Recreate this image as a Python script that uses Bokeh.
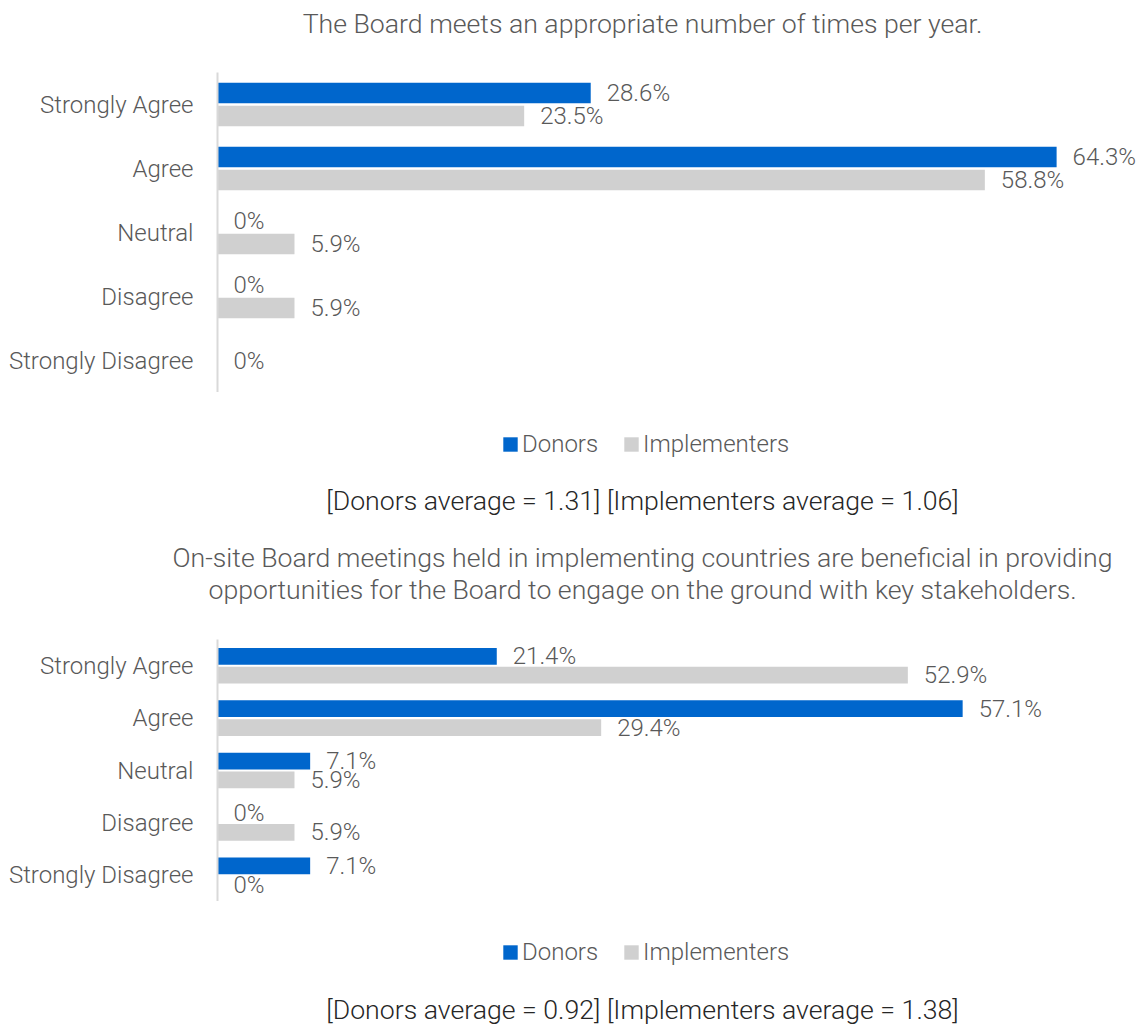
from bokeh.plotting import figure
from bokeh.models import ColumnDataSource, FactorRange, Range1d, LabelSet, Label, Legend, LegendItem
from bokeh.layouts import column
from bokeh.transform import dodge
from bokeh.core.properties import value
from bokeh.embed import file_html
from bokeh.resources import INLINE

# ---------------- data ----------------
categories = ["Strongly Agree", "Agree", "Neutral", "Disagree", "Strongly Disagree"]
series_names = ["Donors", "Implementers"]

q1_title = ["The Board meets an appropriate number of times per year."]
q1_donors = [28.6, 64.3, 0, 0, 0]
q1_implementers = [23.5, 58.8, 5.9, 5.9, 0]
q1_note = "[Donors average = 1.31] [Implementers average = 1.06]"

q2_title = ["On-site Board meetings held in implementing countries are beneficial in providing",
            "opportunities for the Board to engage on the ground with key stakeholders."]
q2_donors = [21.4, 57.1, 7.1, 0, 7.1]
q2_implementers = [52.9, 29.4, 5.9, 5.9, 0]
q2_note = "[Donors average = 0.92] [Implementers average = 1.38]"

# ---------------- style ----------------
FONT_STR = "'Roboto Light', Roboto, sans-serif"
FONT = value(FONT_STR)
TXT = "#595959"
NOTE = "#262626"
BLUE = "#0066CC"
GREY = "#D0D0D0"
W = 1140
LEFT = 217
PX_PER_PCT = 13.05
X_MAX = (W - LEFT) / PX_PER_PCT
CENTER_X = 642
OFF = 0.18
BAR_H = 0.32
TITLE_SIZE = "26.67px"
LABEL_SIZE = "24px"
NAN = float("nan")


def fmt(v):
    return f"{v:g}%"


def base_fig(height, **kw):
    f = figure(width=W, height=height, output_backend="svg", toolbar_location=None,
               frame_align=False, **kw)
    f.outline_line_color = None
    f.xgrid.visible = False
    f.ygrid.visible = False
    f.background_fill_color = None
    f.border_fill_color = "white"
    return f


def text_fig(height, items, legend_top=None):
    f = base_fig(height, x_range=Range1d(0, W), y_range=Range1d(height, 0),
                 x_axis_location=None, y_axis_location=None, min_border=0)
    for text, y, size, color in items:
        f.add_layout(Label(x=CENTER_X, y=y, text=text, text_align="center",
                           text_baseline="middle", text_font=FONT_STR,
                           text_font_size=size, text_color=color))
    if legend_top is not None:
        # legend keys (non-drawn proxies) share the series colours of the chart above
        k1 = f.hbar(y=[NAN], right=[NAN], left=0, height=1, fill_color=BLUE, line_color=None)
        k2 = f.hbar(y=[NAN], right=[NAN], left=0, height=1, fill_color=GREY, line_color=None)
        leg_h = 28
        legend = Legend(items=[LegendItem(label=series_names[0], renderers=[k1]),
                               LegendItem(label=series_names[1], renderers=[k2])],
                        location=(501, height - legend_top - leg_h), orientation="horizontal",
                        glyph_width=18, glyph_height=18, label_standoff=3, spacing=24,
                        label_height=leg_h, padding=0, margin=0, border_line_color=None,
                        background_fill_alpha=0, label_text_font=FONT_STR,
                        label_text_font_size=LABEL_SIZE, label_text_color=TXT,
                        label_text_baseline="middle")
        f.add_layout(legend)
    return f


def chart_fig(donors, impl, height):
    p = base_fig(height, y_range=FactorRange(factors=categories[::-1]),
                 x_range=Range1d(0, X_MAX), x_axis_location=None,
                 min_border_left=LEFT, min_border_right=0,
                 min_border_top=0, min_border_bottom=0)

    ax = p.yaxis[0]
    ax.major_tick_line_color = None
    ax.minor_tick_line_color = None
    ax.axis_line_color = "#D9D9D9"
    ax.axis_line_width = 2
    ax.major_label_standoff = 18
    ax.major_label_text_font = FONT_STR
    ax.major_label_text_font_size = LABEL_SIZE
    ax.major_label_text_color = TXT

    src = ColumnDataSource(dict(cat=categories, donors=donors, impl=impl))
    p.hbar(y=dodge("cat", OFF, range=p.y_range), right="donors", left=0,
           height=BAR_H, source=src, fill_color=BLUE, line_color=None)
    p.hbar(y=dodge("cat", -OFF, range=p.y_range), right="impl", left=0,
           height=BAR_H, source=src, fill_color=GREY, line_color=None)

    # value labels
    d_c, d_x, d_t, i_c, i_x, i_t, z_c, z_x, z_t = ([] for _ in range(9))
    for c, d, im in zip(categories, donors, impl):
        if d == 0 and im == 0:
            z_c.append(c); z_x.append(0); z_t.append("0%")
            continue
        d_c.append(c); d_x.append(d); d_t.append(fmt(d))
        i_c.append(c); i_x.append(im); i_t.append(fmt(im))
    lab_kw = dict(x_offset=16, text_baseline="middle", text_align="left",
                  text_font=FONT, text_font_size=LABEL_SIZE, text_color=TXT)
    p.add_layout(LabelSet(x="x", y=dodge("cat", OFF, range=p.y_range), text="t",
                          source=ColumnDataSource(dict(cat=d_c, x=d_x, t=d_t)), **lab_kw))
    p.add_layout(LabelSet(x="x", y=dodge("cat", -OFF, range=p.y_range), text="t",
                          source=ColumnDataSource(dict(cat=i_c, x=i_x, t=i_t)), **lab_kw))
    if z_c:
        p.add_layout(LabelSet(x="x", y="cat", text="t",
                              source=ColumnDataSource(dict(cat=z_c, x=z_x, t=z_t)), **lab_kw))
    return p


t1 = text_fig(72, [(q1_title[0], 23, TITLE_SIZE, TXT)])
c1 = chart_fig(q1_donors, q1_implementers, height=320)
n1 = text_fig(138, [(q1_note, 108, TITLE_SIZE, NOTE)], legend_top=38)
t2 = text_fig(109, [(q2_title[0], 27, TITLE_SIZE, TXT), (q2_title[1], 59, TITLE_SIZE, TXT)])
c2 = chart_fig(q2_donors, q2_implementers, height=262)
n2 = text_fig(124, [(q2_note, 108, TITLE_SIZE, NOTE)], legend_top=37)

layout = column(t1, c1, n1, t2, c2, n2, spacing=0)
open("out.html", "w").write(file_html(layout, INLINE))
